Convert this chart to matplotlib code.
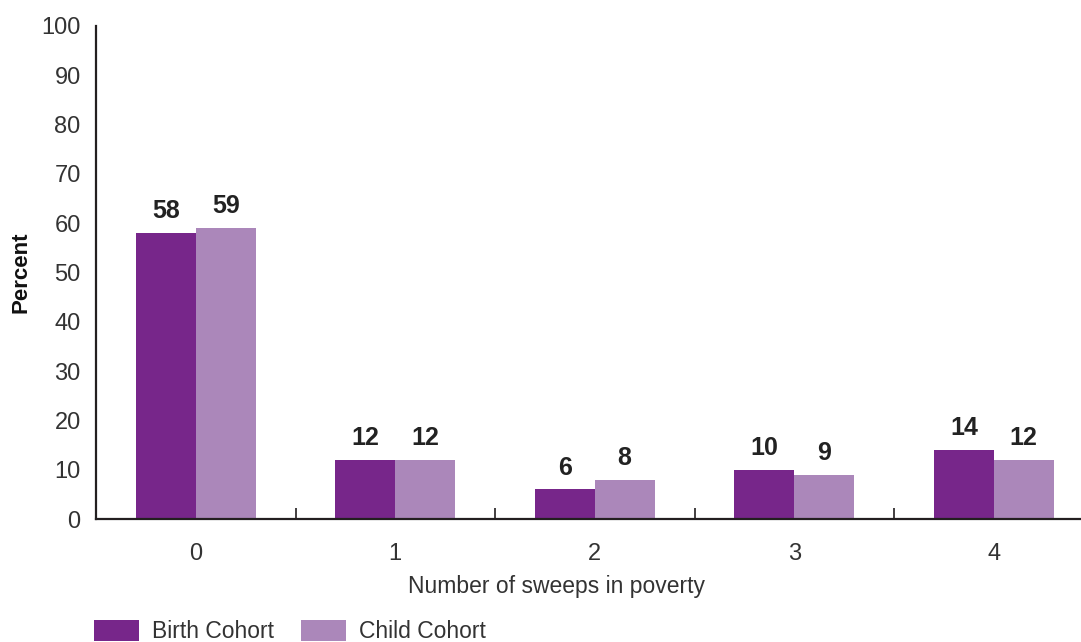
import matplotlib
matplotlib.use("Agg")
import matplotlib.pyplot as plt
import numpy as np

# Data
categories = ["0", "1", "2", "3", "4"]
birth_cohort = [58, 12, 6, 10, 14]
child_cohort = [59, 12, 8, 9, 12]

BIRTH_COLOR = "#77268A"
CHILD_COLOR = "#AB87BA"
TEXT_COLOR = "#333333"
AXIS_COLOR = "#231F20"

plt.rcParams["font.family"] = ["Liberation Sans", "DejaVu Sans"]

fig = plt.figure(figsize=(10.81, 6.42), dpi=100)
ax = fig.add_axes([96 / 1081, 1 - 519 / 642, 984 / 1081, (519 - 26) / 642])

x = np.arange(len(categories))
width = 0.3
b1 = ax.bar(x - width / 2, birth_cohort, width, color=BIRTH_COLOR, label="Birth Cohort")
b2 = ax.bar(x + width / 2, child_cohort, width, color=CHILD_COLOR, label="Child Cohort")

for bars, vals in ((b1, birth_cohort), (b2, child_cohort)):
    for rect, v in zip(bars, vals):
        ax.annotate(f"{v}", (rect.get_x() + rect.get_width() / 2, v),
                    xytext=(0, 7), textcoords="offset points",
                    ha="center", va="bottom", fontsize=18, fontweight="bold",
                    color="#222222")

ax.set_xlim(-0.5, -0.5 + 984 / 199.5)
ax.set_ylim(0, 100)
ax.set_yticks(range(0, 101, 10))
ax.set_xticks(x)
ax.set_xticklabels(categories)
ax.set_xticks(x[:-1] + 0.5, minor=True)

for side in ("top", "right"):
    ax.spines[side].set_visible(False)
for side in ("left", "bottom"):
    ax.spines[side].set_color(AXIS_COLOR)
    ax.spines[side].set_linewidth(1.6)

ax.tick_params(axis="y", length=0, pad=11, labelsize=17, labelcolor=TEXT_COLOR)
ax.tick_params(axis="x", which="major", length=0, pad=17, labelsize=17, labelcolor=TEXT_COLOR)
ax.tick_params(axis="x", which="minor", direction="in", length=8, width=1.2, color=AXIS_COLOR)

ax.set_ylabel("Percent", fontsize=16, fontweight="bold", color="#111111", labelpad=7)
ax.set_xlabel("Number of sweeps in poverty", fontsize=16.5, color=TEXT_COLOR)
ax.xaxis.set_label_coords((556 - 96) / 984, -(586 - 519) / 493, transform=ax.transAxes)
ax.xaxis.label.set_va("center")

fig.legend(handles=[b1, b2], loc="upper left",
           bbox_to_anchor=(94 / 1081, 1 - 620 / 642),
           ncol=2, frameon=False, fontsize=16.5, labelcolor=TEXT_COLOR,
           borderpad=0, borderaxespad=0, handlelength=1.97, handleheight=1.0,
           handletextpad=0.57, columnspacing=1.18)

fig.savefig("out.png", dpi=100)
